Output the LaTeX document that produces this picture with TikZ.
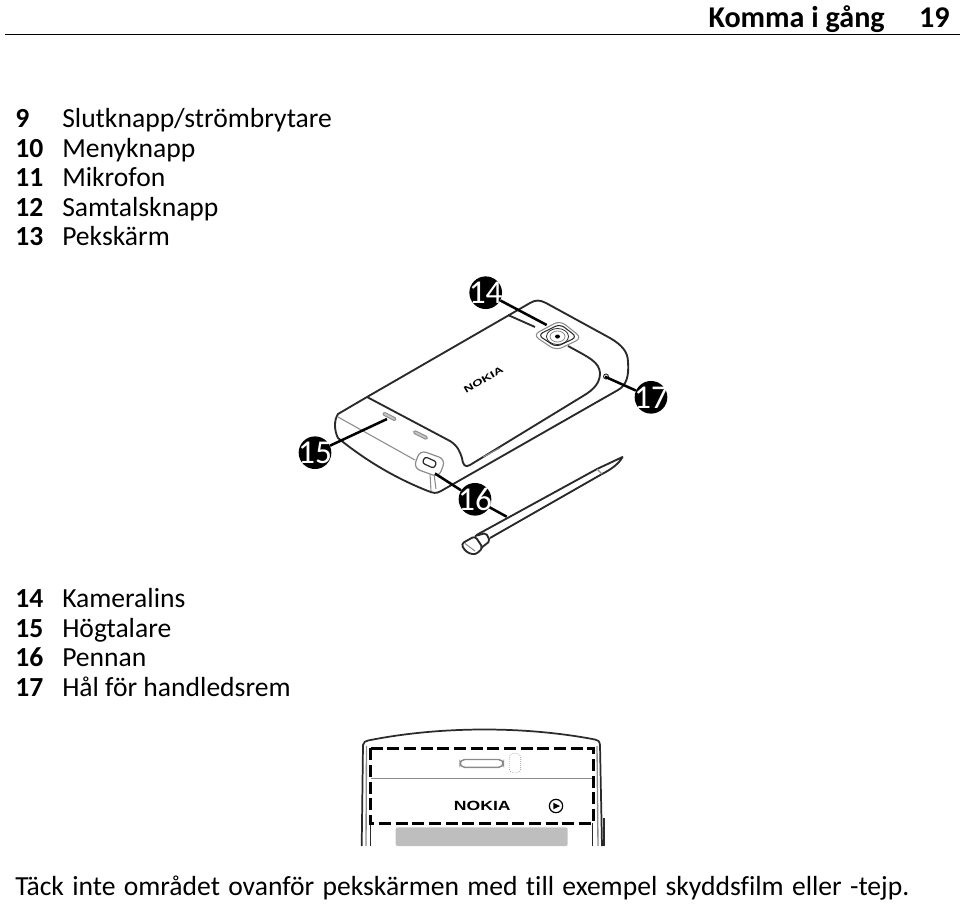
\documentclass[tikz,border=0pt]{standalone}
\usepackage{fontspec}
\setmainfont[Ligatures=NoCommon]{Carlito}
\newfontfamily\badgefont{Carlito}
\newfontfamily\logofont{Liberation Sans}
\usetikzlibrary{positioning}

\definecolor{inkgray}{HTML}{2A2A2A}
\definecolor{softgray}{HTML}{8C8C8C}
\definecolor{screengray}{HTML}{BEBEBE}

\newcommand{\badgenum}[1]{\makebox[0pt]{#1}}

\begin{document}
\begin{tikzpicture}[x=0.75pt,y=-0.75pt,
    listnum/.style={anchor=base west,inner sep=0pt,font=\fontsize{20.7}{24}\selectfont\bfseries},
    listtext/.style={anchor=base west,inner sep=0pt,font=\fontsize{20.7}{24}\selectfont},
    headtext/.style={anchor=base east,inner sep=0pt,font=\fontsize{22.6}{24}\selectfont\bfseries},
    badge/.style={circle,fill=black,text=white,minimum size=24.5pt,inner sep=0pt,font=\badgefont\fontsize{25}{25}\selectfont},
    leader/.style={line width=1.9pt,black},
    body/.style={line width=1.4pt,inkgray,line join=round},
    thinpart/.style={line width=0.8pt,softgray,line join=round}]

    \useasboundingbox (0,0) rectangle (960,904);

    % Header
    \node[headtext] (pageno) at (950,27) {19};
    \node[headtext] (title) at (885,27) {Komma i gång};
    \coordinate (ruleL) at (5,34.5);
    \coordinate (ruleR) at (960,34.5);
    \draw[line width=1pt] (ruleL) -- (ruleR);

    % Upper list
    \node[listnum] (n9) at (15,127) {9};
    \node[listnum] (n10) at (15,157) {10};
    \node[listnum] (n11) at (15,186) {11};
    \node[listnum] (n12) at (15,216) {12};
    \node[listnum] (n13) at (15,245) {13};
    \node[listtext] (t9) at (62,127) {Slutknapp/strömbrytare};
    \node[listtext] (t10) at (62,157) {Menyknapp};
    \node[listtext] (t11) at (62,186) {Mikrofon};
    \node[listtext] (t12) at (62,216) {Samtalsknapp};
    \node[listtext] (t13) at (62,245) {Pekskärm};

    % Lower list
    \node[listnum] (n14) at (15,607) {14};
    \node[listnum] (n15) at (15,637) {15};
    \node[listnum] (n16) at (15,666) {16};
    \node[listnum] (n17) at (15,696) {17};
    \node[listtext] (t14) at (62,607) {Kameralins};
    \node[listtext] (t15) at (62,637) {Högtalare};
    \node[listtext] (t16) at (62,666) {Pennan};
    \node[listtext] (t17) at (62,696) {Hål för handledsrem};

    % Phone back
    \draw[body] (367,397) -- (530,303) .. controls (536,299.5) and (540,300) .. (546,303)
      -- (610,338) .. controls (622,345) and (628,352) .. (628,362)
      .. controls (629,375) and (627,385) .. (618,390)
      -- (441,491) .. controls (436,494) and (433,493) .. (428,491)
      .. controls (395,478) and (365,460) .. (338,438)
      .. controls (334,430) and (334,420) .. (338,414) -- cycle;
    \draw[body] (367,397) -- (450,441) .. controls (458,446) and (460,452) .. (462,458)
      .. controls (463,465) and (465,468) .. (470,465)
      -- (583,396) .. controls (595,389) and (600,382) .. (600,373)
      .. controls (599,362) and (590,358) .. (568,346);
    \draw[body] (508,315) -- (535,327);
    \draw[thinpart] (338,417) -- (415,460);
    \draw[thinpart] (430,474) -- (431,491);
    \draw[thinpart] (434,474) -- (436,489);
    \draw[thinpart] (483,457) -- (500,448);

    % Camera
    \draw[line width=0.8pt,softgray,rounded corners=5pt] (533,335) -- (560,320.5) -- (582,338) -- (556,350.5) -- cycle;
    \draw[line width=0.8pt,inkgray,rounded corners=4pt] (538,335) -- (560,324) -- (577,337) -- (556,347) -- cycle;
    \draw[line width=0.6pt,inkgray] (557.5,336.5) ellipse (11 and 8);
    \draw[line width=0.6pt,softgray] (557.5,336.5) ellipse (7.5 and 5.5);
    \fill[black] (557.5,336.5) ellipse (2.5 and 2);

    % Logo on the back
    \node[rotate=30,xscale=1.45,inner sep=0pt,font=\logofont\fontsize{7}{7}\selectfont\bfseries] (backlogo) at (483.5,380) {NOKIA};

    % Speaker slots, port and strap hole
    \draw[line width=0.7pt,softgray,fill=softgray!50,rotate around={-27:(389.5,416.5)},rounded corners=1pt] (382.5,415) rectangle (396.5,418);
    \draw[line width=0.7pt,softgray,fill=softgray!50,rotate around={-27:(420.5,435)},rounded corners=1pt] (413,433.5) rectangle (428,436.5);
    \draw[line width=0.9pt,softgray,fill=white,rotate around={-20:(429,463.5)},rounded corners=5pt] (416,454) rectangle (443,473);
    \draw[line width=0.9pt,inkgray,rotate around={-25:(429.5,462.5)},rounded corners=2pt] (423,459) rectangle (436,466);
    \draw[line width=0.7pt,inkgray] (606,376.5) ellipse (2.5 and 2.5);

    % Stylus
    \draw[body] (476.5,535) -- (597,469) -- (622.5,457) .. controls (619,464) and (610,470) .. (602,474) -- (490,538);
    \draw[thinpart] (597,469) -- (602,474);
    \draw[body,rounded corners=1.5pt] (475,536) -- (486,533) -- (490,541) -- (481,548);
    \draw[body,rounded corners=2.5pt] (461,544) -- (475,536) -- (483,548) -- (475,555) -- (466,552) -- cycle;
    \draw[thinpart] (465,543.5) -- (475,551);

    % Badges and leaders
    \node[badge] (b14) at (485.7,292.7) {\badgenum{14}};
    \node[badge] (b15) at (315,452.7) {\badgenum{15}};
    \node[badge] (b16) at (475,499.3) {\badgenum{16}};
    \node[badge] (b17) at (651,397.3) {\badgenum{17}};
    \coordinate (c14) at (546.7,325);
    \coordinate (c15) at (387,419);
    \coordinate (c16a) at (435,473.5);
    \coordinate (c16b) at (506.7,516.7);
    \coordinate (c17) at (605,376.7);
    \draw[leader] (b14) -- (c14);
    \draw[leader] (b15) -- (c15);
    \draw[leader] (b16) -- (c16a);
    \draw[leader] (b16) -- (c16b);
    \draw[leader] (b17) -- (c17);

    % Phone front
    \fill[screengray,rounded corners=1.5pt] (395.7,846) |- (567.7,827.3) -- (567.7,846) -- cycle;
    \draw[line width=1.3pt,inkgray] (361.7,846) -- (363,745) .. controls (364,742) and (365,741) .. (368,740.5)
      .. controls (440,726) and (525,726) .. (595,739.5) .. controls (598,740) and (599.5,741) .. (600,745) -- (602,846);
    \draw[line width=1pt,softgray] (366.5,746) -- (366,846);
    \draw[line width=1pt,softgray] (597,746) -- (598,846);
    \draw[line width=1.2pt,inkgray] (604,818) -- (604,846);
    \draw[line width=0.7pt,inkgray] (370.7,823) -- (370.7,846);
    \draw[line width=0.7pt,inkgray] (592,823) -- (592,846);
    \draw[line width=0.7pt,softgray] (370.7,778.5) -- (592,778.5);
    \draw[line width=2pt,dash pattern=on 9pt off 3.5pt] (370.7,748.3) rectangle (593.3,823.3);
    \draw[line width=1.1pt,softgray,rounded corners=3.5pt] (460,759.5) rectangle (503.3,767.3);
    \draw[line width=0.5pt,softgray,densely dotted,rounded corners=3pt] (509.3,753.3) rectangle (520.7,772.7);
    \node[inner sep=0pt,xscale=1.32,font=\logofont\fontsize{10}{10}\selectfont\bfseries] (frontlogo) at (482.3,806) {NOKIA};
    \node[circle,draw=black,line width=0.9pt,minimum size=10pt,inner sep=0pt] (playkey) at (556,806) {};
    \fill[black] (553.3,802.7) -- (560,806) -- (553.3,809.3) -- cycle;

    % Footer
    \node[listtext] (note) at (15,895) {\spaceskip=6.2pt Täck inte området ovanför pekskärmen med till exempel skyddsfilm eller -tejp.};
\end{tikzpicture}
\end{document}
